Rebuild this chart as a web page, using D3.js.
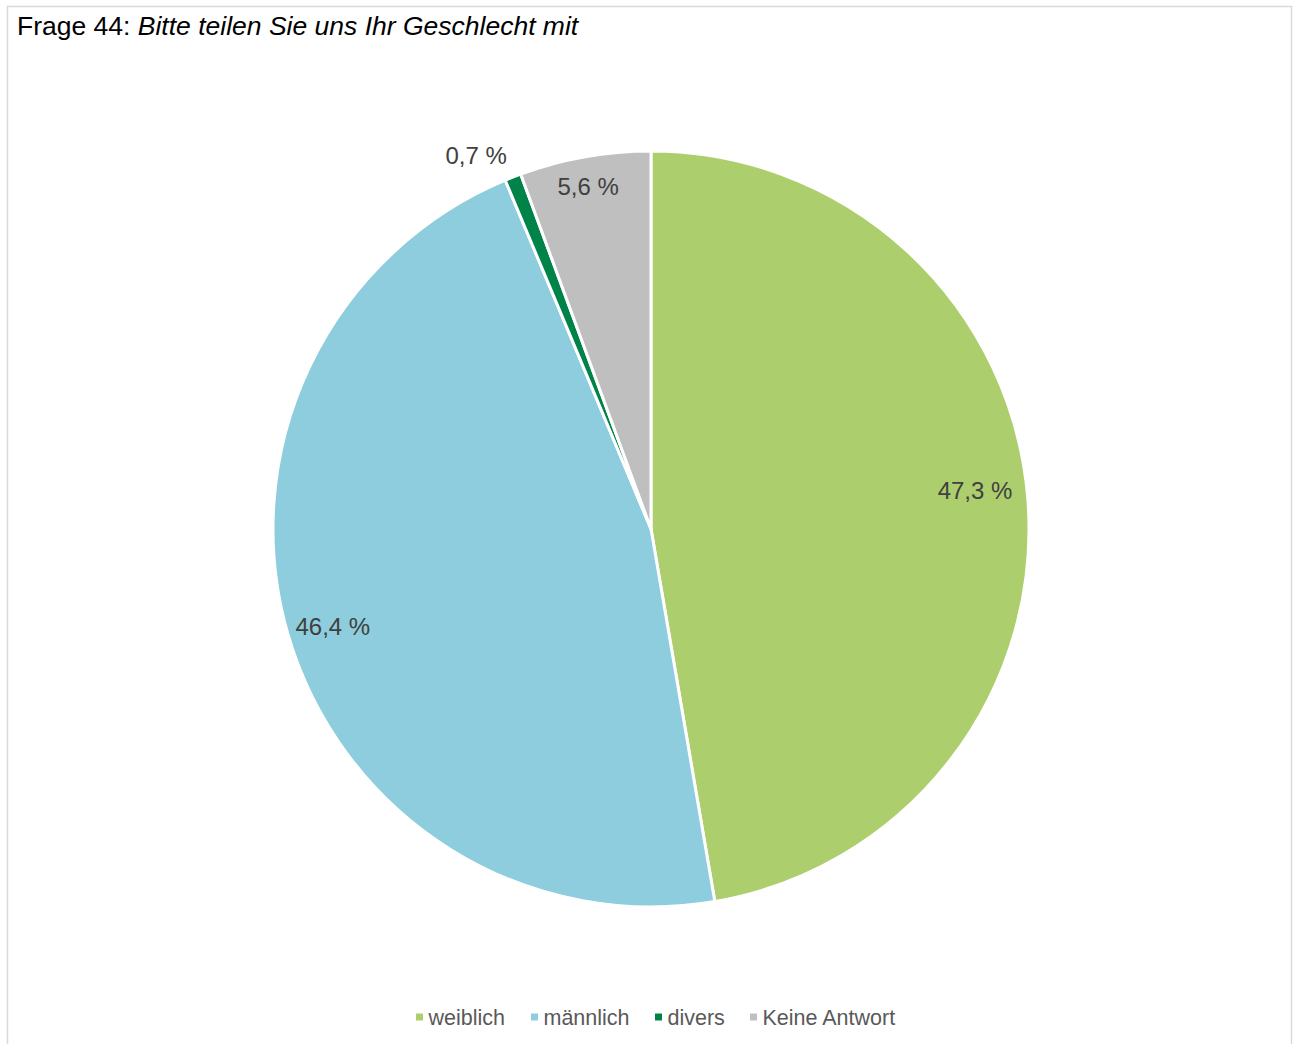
<!DOCTYPE html>
<html><head><meta charset="utf-8">
<script src="https://cdn.jsdelivr.net/npm/d3@7"></script>
<style>
html,body{margin:0;padding:0;background:#fff;}
svg{display:block;}
</style></head>
<body>
<script>
const categories = ["weiblich", "männlich", "divers", "Keine Antwort"];
const values = [47.3, 46.4, 0.7, 5.6];
const labels = ["47,3 %", "46,4 %", "0,7 %", "5,6 %"];
const colors = ["#adce6d", "#8ecddd", "#008348", "#bfbfbf"];

const W = 1293, H = 1044;
const FONT = "'Liberation Sans', Arial, sans-serif";
const svg = d3.select("body").append("svg").attr("width", W).attr("height", H);

// frame
svg.append("path").attr("d", `M7.5,${H+2} V6.5 H1291.5 V${H+2}`)
  .attr("fill", "none").attr("stroke", "#d9d9d9").attr("stroke-width", 1.5);

// title
const t = svg.append("text").attr("x", 17).attr("y", 35)
  .attr("font-family", FONT).attr("font-size", 26.5).attr("fill", "#000");
t.append("tspan").text("Frage 44: ");
t.append("tspan").attr("font-style", "italic").text("Bitte teilen Sie uns Ihr Geschlecht mit");

const cx = 651, cy = 529, r = 378;
const data = categories.map((c, i) => ({c, v: values[i], label: labels[i], color: colors[i]}));
const pie = d3.pie().value(d => d.v).sort(null);
const arcs = pie(data);
const arc = d3.arc().innerRadius(0).outerRadius(r);
const g = svg.append("g").attr("transform", `translate(${cx},${cy})`);
g.selectAll("path").data(arcs).join("path")
  .attr("d", arc).attr("fill", d => d.data.color)
  .attr("stroke", "#fff").attr("stroke-width", 3).attr("stroke-linejoin", "round");

// label placement: radius factor and angular shift (degrees) from slice mid-angle
const labelR = [0.863, 0.88, 1.09, 0.922];
const labelShift = [-1.83, -0.76, -3.7, -0.3];
g.selectAll("text.lbl").data(arcs).join("text").attr("class", "lbl")
  .attr("transform", (d, i) => {
    const a = (d.startAngle + d.endAngle) / 2 + labelShift[i] * Math.PI / 180;
    const rr = r * labelR[i];
    return `translate(${rr * Math.sin(a)},${-rr * Math.cos(a)})`;
  })
  .attr("text-anchor", "middle").attr("dominant-baseline", "central")
  .attr("font-family", FONT).attr("font-size", 24)
  .attr("fill", "#404040").text(d => d.data.label);

// legend
const lg = svg.append("g").attr("font-family", FONT).attr("font-size", 21.5);
const legX = [416, 531, 655, 750];
data.forEach((d, i) => {
  lg.append("rect").attr("x", legX[i]).attr("y", 1013.5).attr("width", 7).attr("height", 7).attr("fill", d.color);
  lg.append("text").attr("x", legX[i] + 12.5).attr("y", 1025).attr("fill", "#595959").text(d.c);
});
</script>
</body></html>
